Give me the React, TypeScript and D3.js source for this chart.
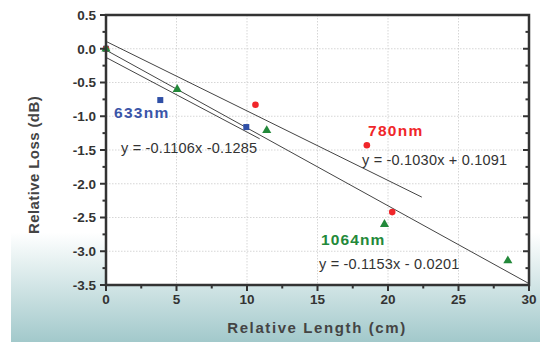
import React from "react";
import * as d3 from "d3";

const xTicks = [0, 5, 10, 15, 20, 25, 30];
const yTicks = [0.5, 0.0, -0.5, -1.0, -1.5, -2.0, -2.5, -3.0, -3.5];

const s633 = [
  { x: 0, y: 0 },
  { x: 3.85, y: -0.76 },
  { x: 9.95, y: -1.16 },
];
const s780 = [
  { x: 0, y: 0 },
  { x: 10.6, y: -0.83 },
  { x: 18.5, y: -1.43 },
  { x: 20.3, y: -2.42 },
];
const s1064 = [
  { x: 0, y: 0 },
  { x: 5.05, y: -0.6 },
  { x: 11.4, y: -1.21 },
  { x: 19.75, y: -2.6 },
  { x: 28.5, y: -3.14 },
];

const fits = [
  { slope: -0.103, intercept: 0.1091, x0: 0, x1: 22.4 },
  { slope: -0.1153, intercept: -0.0201, x0: 0, x1: 30 },
  { slope: -0.1106, intercept: -0.1285, x0: 0, x1: 10.9 },
];

const W = 547;
const H = 342;
const L = 106, R = 529, T = 15, B = 285;

export default function App() {
  const x = d3.scaleLinear().domain([0, 30]).range([L, R]);
  const y = d3.scaleLinear().domain([-3.5, 0.5]).range([B, T]);
  const axisColor = "#333";
  const font = "'Liberation Sans', Arial, sans-serif";
  const minorX = d3.range(0, 30.01, 2.5);
  const minorY = d3.range(-3.5, 0.51, 0.25);
  const tri = d3.symbol().type(d3.symbolTriangle).size(36)();

  return (
    <svg width={W} height={H} style={{ position: "absolute", left: 0, top: 0 }}>
      <defs>
        <linearGradient id="bg" x1="0" y1="0" x2="0" y2="1">
          <stop offset="0" stopColor="#ffffff" />
          <stop offset="0.68" stopColor="#ffffff" />
          <stop offset="1" stopColor="#a2c9cb" />
        </linearGradient>
      </defs>
      <rect x={0} y={0} width={W} height={H} fill="#fff" />
      <rect x={11} y={0} width={529} height={H} fill="url(#bg)" />
      <rect x={L} y={T} width={R - L} height={B - T} fill="#fff" />
      {/* grid */}
      {xTicks.slice(1, -1).map((t) => (
        <line key={"gx" + t} x1={x(t)} x2={x(t)} y1={T} y2={B} stroke="#ccc" strokeWidth={0.8} strokeDasharray="1.5,1.5" />
      ))}
      {yTicks.slice(1, -1).map((t) => (
        <line key={"gy" + t} x1={L} x2={R} y1={y(t)} y2={y(t)} stroke="#ccc" strokeWidth={0.8} strokeDasharray="1.5,1.5" />
      ))}
      {/* fit lines */}
      {fits.map((f, i) => (
        <line key={"f" + i} x1={x(f.x0)} y1={y(f.slope * f.x0 + f.intercept)} x2={x(f.x1)} y2={y(f.slope * f.x1 + f.intercept)} stroke="#444" strokeWidth={1} />
      ))}
      {/* points */}
      {s633.map((d, i) => (
        <rect key={"b" + i} x={x(d.x) - 3} y={y(d.y) - 3} width={6} height={6} fill="#2f4fa6" />
      ))}
      {s780.map((d, i) => (
        <circle key={"r" + i} cx={x(d.x)} cy={y(d.y)} r={3.3} fill="#f0262a" />
      ))}
      {s1064.map((d, i) => (
        <path key={"g" + i} d={tri!} transform={`translate(${x(d.x)},${y(d.y)})`} fill="#23893a" />
      ))}
      {/* frame */}
      <rect x={L} y={T} width={R - L} height={B - T} fill="none" stroke={axisColor} strokeWidth={2.5} />
      {/* ticks */}
      {minorY.map((t, i) => (
        <line key={"ly" + i} x1={L} x2={L - (i % 2 === 0 ? 6 : 3.5)} y1={y(t)} y2={y(t)} stroke={axisColor} strokeWidth={2} />
      ))}
      {minorY.map((t, i) => (
        <line key={"ry" + i} x1={R} x2={R - (i % 2 === 0 ? 6 : 3.5)} y1={y(t)} y2={y(t)} stroke={axisColor} strokeWidth={2} />
      ))}
      {minorX.map((t, i) => (
        <line key={"bx" + i} x1={x(t)} x2={x(t)} y1={B} y2={B + (i % 2 === 0 ? 6 : 3.5)} stroke={axisColor} strokeWidth={2} />
      ))}
      {/* tick labels */}
      {yTicks.map((t) => (
        <text key={"yl" + t} x={L - 10} y={y(t)} dy="0.36em" textAnchor="end" fontFamily={font} fontWeight="bold" fontSize={13.5} fill={axisColor}>
          {t.toFixed(1)}
        </text>
      ))}
      {xTicks.map((t) => (
        <text key={"xl" + t} x={x(t)} y={B + 19} textAnchor="middle" fontFamily={font} fontWeight="bold" fontSize={13.5} fill={axisColor}>
          {t}
        </text>
      ))}
      {/* axis titles */}
      <text x={317} y={333} textAnchor="middle" fontFamily={font} fontWeight="bold" fontSize={15} fill="#444" letterSpacing={1.6}>
        Relative Length (cm)
      </text>
      <text transform="translate(39,165) rotate(-90)" textAnchor="middle" fontFamily={font} fontWeight="bold" fontSize={15} fill="#444" letterSpacing={0.4}>
        Relative Loss (dB)
      </text>
      {/* labels */}
      <text x={114} y={117.5} fontFamily={font} fontWeight="bold" fontSize={15.5} fill="#3a55a8" letterSpacing={1.3}>633nm</text>
      <text x={368} y={135.5} fontFamily={font} fontWeight="bold" fontSize={15.5} fill="#f0262a" letterSpacing={1.3}>780nm</text>
      <text x={321} y={244.5} fontFamily={font} fontWeight="bold" fontSize={15.5} fill="#23893a" letterSpacing={1.1}>1064nm</text>
      <text x={121} y={153} fontFamily={font} fontSize={14.5} fill="#333" letterSpacing={0.2}>y = -0.1106x -0.1285</text>
      <text x={362} y={165} fontFamily={font} fontSize={14.5} fill="#333" letterSpacing={0.2}>y = -0.1030x + 0.1091</text>
      <text x={319} y={269} fontFamily={font} fontSize={14.5} fill="#333" letterSpacing={0.2}>y = -0.1153x - 0.0201</text>
    </svg>
  );
}
